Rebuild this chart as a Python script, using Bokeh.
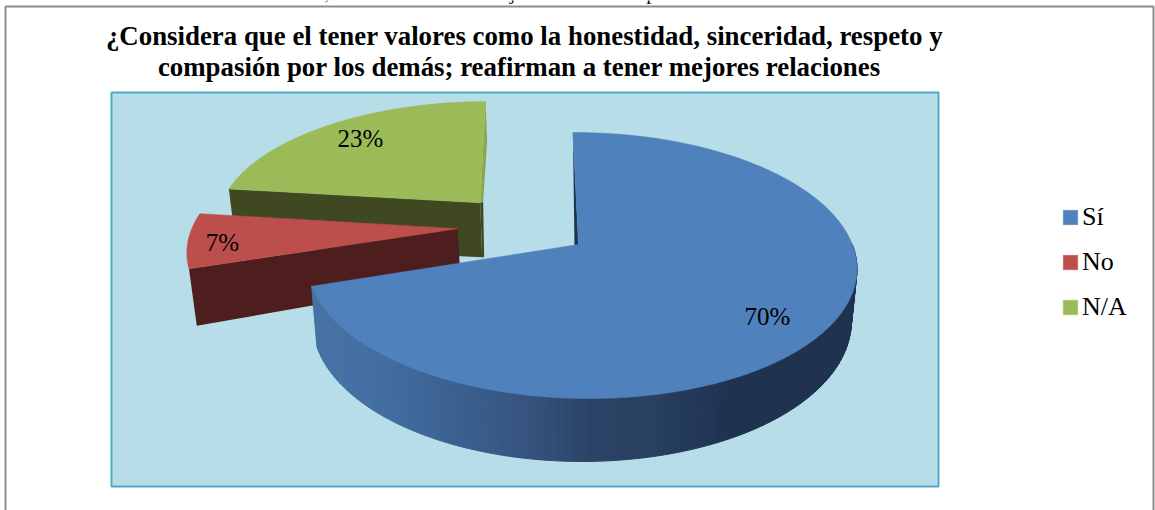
import numpy as np
from bokeh.core.properties import value
from bokeh.embed import file_html
from bokeh.models import Legend, LegendItem, Range1d
from bokeh.plotting import figure
from bokeh.resources import INLINE

categories = ["Sí", "No", "N/A"]
shares = [70, 7, 23]
top_colors = ["#4F81BD", "#BC4E4C", "#9BBB59"]
face_colors = ["#1F3350", "#4E1E1E", "#3F4821"]
title_lines = ["¿Considera que el tener valores como la honestidad, sinceridad, respeto y",
               "compasión por los demás; reafirman a tener mejores relaciones"]
cut_text = "los demás; reafirman a tener mejores relaciones personales."

W, H = 1155, 510
SERIF = "Liberation Serif"
CX, CY, KX, KY, P, Q = 578.0, 244.0, 271.4, 129.7, 0.158, -0.009
# per-slice explosion and view correction
style = [dict(ou=0.0, ov=0.0, sx=1.0, shear=0.05, dk=1.0),
         dict(ou=-0.455, ov=0.125, sx=1.017, shear=0.075, dk=0.93),
         dict(ou=-0.383, ov=0.34, sx=1.02, shear=0.075, dk=1.04)]
wall_stops_x = [312, 380, 450, 520, 590, 650, 730, 860]
wall_stops_rgb = [(0x46, 0x72, 0xA4), (0x42, 0x6E, 0xA2), (0x3B, 0x61, 0x91), (0x36, 0x55, 0x80),
                  (0x2B, 0x43, 0x66), (0x29, 0x40, 0x62), (0x1F, 0x33, 0x50), (0x1F, 0x33, 0x50)]


def raw(u, v):
    den = 1 + P * v + Q * u
    return KX * u / den, -KY * v / den


def project(deg, r, st, z=0.0):
    a = np.radians(deg)
    u = st["ou"] + r * np.sin(a)
    v = st["ov"] + r * np.cos(a)
    x, y = raw(u, v)
    x0, y0 = raw(st["ou"], st["ov"])
    x = x0 + (x - x0) * st["sx"] + st["shear"] * (y - y0)
    d = z * st["dk"] * (54 - 12 * v - 4 * u)
    return CX + x * (1 - 0.02 * z), CY + y * (1 - 0.02 * z) + d


def arc(a0, a1, st, z=0.0, n=90):
    pts = [project(a, 1.0, st, z) for a in np.linspace(a0, a1, n)]
    return [q[0] for q in pts], [q[1] for q in pts]


def wall_color(x):
    c = [np.interp(x, wall_stops_x, [s[i] for s in wall_stops_rgb]) for i in range(3)]
    return "#%02x%02x%02x" % tuple(int(round(k)) for k in c)


p = figure(width=W, height=H, x_range=Range1d(0, W), y_range=Range1d(H, 0),
           x_axis_type=None, y_axis_type=None, toolbar_location=None,
           output_backend="svg", min_border=0, outline_line_color=None,
           background_fill_color="white", border_fill_color="white")
p.grid.visible = False
p.styles = {"position": "absolute", "left": "0px", "top": "0px"}

# text cut by the top edge of the picture
p.text(x=[490], y=[-8.5], text=[cut_text], text_font=value(SERIF), text_font_size="21px",
       text_align="center", text_baseline="alphabetic", text_color="#111111")

# chart frame and plot area
p.quad(left=[5], right=[1153], top=[6], bottom=[530], fill_color="white", line_color="#8C8C8C", line_width=2)
p.quad(left=[111], right=[938], top=[92], bottom=[486], fill_color="#B7DDE8", line_color="#4BACC6", line_width=2)

# angles from the shares
ends = np.cumsum(shares) / sum(shares) * 360.0
starts = np.concatenate([[0.0], ends[:-1]])

tops = {}
# draw back to front: N/A, No, Sí
for i in [2, 1, 0]:
    st = style[i]
    a0, a1 = starts[i], ends[i]
    ax, ay = project(0, 0, st)
    if i == 0:
        # outer wall, shaded strip by strip
        ang = np.linspace(90, a1, 120)
        xs, ys, cols = [], [], []
        for b0, b1 in zip(ang[:-1], ang[1:]):
            t0, t1 = project(b0, 1, st), project(b1, 1, st)
            l0, l1 = project(b0, 1, st, 1), project(b1, 1, st, 1)
            xs.append([t0[0], t1[0], l1[0], l0[0]])
            ys.append([t0[1], t1[1], l1[1], l0[1]])
            cols.append(wall_color((t0[0] + t1[0]) / 2))
        p.patches(xs, ys, fill_color=cols, line_color=cols, line_width=1)
        # sliver at the first radial edge
        c0 = project(a0, 1, st)
        p.patch([c0[0], ax - 4, ax], [c0[1], ay + 1, ay + 1], fill_color=face_colors[i], line_color=None)
    else:
        # visible radial face at the slice's start angle
        c = project(a0, 1, st)
        cb = project(a0, 1, st, 1)
        ab = project(0, 0, st, 1)
        p.patch([ax, c[0], cb[0], ab[0]], [ay, c[1], cb[1], ab[1]], fill_color=face_colors[i], line_color=None)
        if i == 2:
            # the face of the closing edge, seen edge-on
            c1 = project(a1, 1, st)
            p.patch([ax, ax + 3, ab[0] + 2, ab[0]], [ay, ay - 1, ab[1], ab[1]], fill_color=face_colors[i], line_color=None)
            p.patch([c1[0], c1[0] + 1.5, ax + 3, ax], [c1[1], c1[1] + 40, ay - 1, ay], fill_color="#8AA650", line_color=None)
    ox, oy = arc(a0, a1, st)
    tops[i] = p.patch([ax] + ox, [ay] + oy, fill_color=top_colors[i], line_color=top_colors[i], line_width=0.5)

# data labels
lx = [767, 222, 360]
ly = [316, 242, 138]
p.text(x=lx, y=ly, text=[f"{s}%" for s in shares], text_font=value(SERIF), text_font_size="25px",
       text_align="center", text_baseline="middle", text_color="black")

# title
p.text(x=[524, 519], y=[35.5, 66.5], text=title_lines, text_font=value(SERIF), text_font_style="bold",
       text_font_size="26.85px", text_align="center", text_baseline="middle", text_color="black")

legend = Legend(items=[LegendItem(label=value(c), renderers=[tops[i]]) for i, c in enumerate(categories)],
                location=(1061, 188), orientation="vertical", border_line_color=None,
                background_fill_alpha=0, padding=0, margin=0, spacing=15, glyph_width=18, glyph_height=18,
                label_standoff=3, label_text_font=SERIF, label_text_font_size="26px", label_text_color="black")
p.add_layout(legend)

open("out.html", "w").write(file_html(p, INLINE))
